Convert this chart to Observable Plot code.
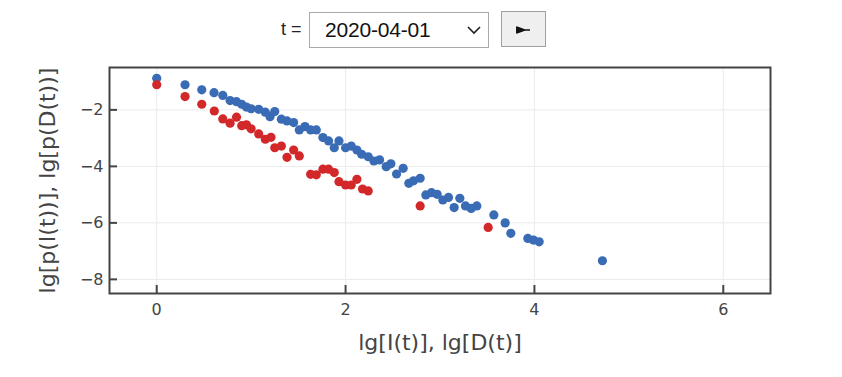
<!DOCTYPE html>
<html><head><meta charset="utf-8">
<script src="https://cdn.jsdelivr.net/npm/d3@7"></script>
<script src="https://cdn.jsdelivr.net/npm/@observablehq/plot@0.6"></script>
<style>
body{margin:0;background:#fff;font-family:"DejaVu Sans",sans-serif;}
#wrap{position:relative;width:842px;height:377px;overflow:hidden;}
#chart{position:absolute;left:0;top:0;}
#tlab{position:absolute;z-index:2;left:281px;top:19px;font:18px "Liberation Sans",Arial,sans-serif;color:#222;}
#sel{position:absolute;z-index:2;left:309px;top:12px;width:180px;height:36px;box-sizing:border-box;border:1px solid #a9a9a9;background:#fff;}
#selt{position:absolute;left:15px;top:5px;font:21px "Liberation Sans",Arial,sans-serif;color:#111;letter-spacing:-0.2px;}
#chev{position:absolute;left:157px;top:13px;}
#btn{position:absolute;z-index:2;left:501px;top:11px;width:45px;height:36px;box-sizing:border-box;border:1px solid #a0a0a0;background:#efefef;}
#play{position:absolute;left:14px;top:14px;}
</style></head>
<body><div id="wrap">
<div id="chart"></div>
<div id="tlab">t =</div>
<div id="sel"><span id="selt">2020-04-01</span>
<svg id="chev" width="14" height="9"><polyline points="1,1 7,7 13,1" fill="none" stroke="#222" stroke-width="1.6"/></svg></div>
<div id="btn"><svg id="play" width="15" height="8"><polygon points="0,0.5 1.5,0.5 9,3.3 14,3.3 14,4.7 9,4.7 1.5,7.5 0,7.5" fill="#111"/></svg></div>
</div>
<script>
const xBlue = [0,0.30,0.477,0.607,0.70,0.777,0.845,0.90,0.95,1.0,1.08,1.15,1.20,1.25,1.32,1.38,1.45,1.51,1.57,1.63,1.69,1.76,1.82,1.88,1.93,2.0,2.06,2.12,2.17,2.24,2.30,2.36,2.43,2.48,2.54,2.61,2.67,2.72,2.79,2.85,2.91,2.97,3.03,3.09,3.15,3.21,3.27,3.33,3.39,3.57,3.69,3.75,3.93,3.99,4.05,4.72];
const yBlue = [-0.88,-1.11,-1.29,-1.39,-1.49,-1.67,-1.71,-1.80,-1.90,-1.96,-1.98,-2.08,-2.24,-2.06,-2.33,-2.39,-2.45,-2.71,-2.59,-2.71,-2.71,-2.98,-3.10,-3.34,-3.10,-3.34,-3.28,-3.42,-3.57,-3.66,-3.81,-3.77,-4.01,-3.91,-4.27,-4.07,-4.60,-4.51,-4.42,-5.01,-4.93,-4.99,-5.19,-5.10,-5.46,-5.13,-5.40,-5.49,-5.40,-5.72,-6.00,-6.37,-6.55,-6.61,-6.67,-7.34];
const xRed = [0,0.30,0.477,0.61,0.70,0.777,0.845,0.90,0.95,1.0,1.08,1.15,1.21,1.25,1.32,1.38,1.45,1.51,1.63,1.69,1.76,1.82,1.88,1.93,2.0,2.06,2.12,2.18,2.24,2.79,3.51];
const yRed = [-1.11,-1.53,-1.80,-2.04,-2.32,-2.47,-2.26,-2.56,-2.53,-2.67,-2.85,-3.04,-2.97,-3.34,-3.28,-3.68,-3.42,-3.63,-4.28,-4.30,-4.10,-4.10,-4.22,-4.54,-4.66,-4.66,-4.46,-4.80,-4.87,-5.40,-6.16];
const xTicks = [0,2,4,6];
const yTicks = [-2,-4,-6,-8];
const xDomain = [-0.5,6.5];
const yDomain = [-8.5,-0.5];
const xTitle = "lg[I(t)], lg[D(t)]";
const yTitle = "lg[p(I(t))], lg[p(D(t))]";

const blue = xBlue.map((x,i)=>({x, y:yBlue[i]}));
const red = xRed.map((x,i)=>({x, y:yRed[i]}));
const fmt = d => d < 0 ? "\u2212" + Math.abs(d) : String(d);

const chart = Plot.plot({
  width: 842, height: 377,
  marginLeft: 109, marginRight: 72, marginTop: 67, marginBottom: 84,
  style: {fontFamily: "DejaVu Sans, sans-serif", color: "#444", background: "#fff"},
  x: {domain: xDomain},
  y: {domain: yDomain},
  marks: [
    Plot.gridX(xTicks, {stroke: "#ebebeb", strokeOpacity: 1, strokeWidth: 1}),
    Plot.gridY(yTicks, {stroke: "#ebebeb", strokeOpacity: 1, strokeWidth: 1}),
    Plot.dot(blue, {x: "x", y: "y", r: 4.6, fill: "#3a6bb5", stroke: "none"}),
    Plot.dot(red, {x: "x", y: "y", r: 4.6, fill: "#d3282a", stroke: "none"}),
    Plot.frame({stroke: "#444", strokeWidth: 2}),
    Plot.axisX(xTicks, {tickSize: -8, tickPadding: 8 + 10, strokeWidth: 2, fontSize: 16, tickFormat: fmt, label: null, fill: "#444", stroke: "#444"}),
    Plot.axisY(yTicks, {tickSize: -8, tickPadding: 8 + 6, strokeWidth: 2, fontSize: 16, tickFormat: fmt, label: null, fill: "#444", stroke: "#444"}),
    Plot.text([xTitle], {frameAnchor: "bottom", dy: 49, lineAnchor: "middle", textAnchor: "middle", fontSize: 22, fill: "#444"}),
    Plot.text([yTitle], {frameAnchor: "left", dx: -62, rotate: -90, lineAnchor: "middle", textAnchor: "middle", fontSize: 22, fill: "#444"})
  ]
});
document.getElementById("chart").appendChild(chart);
</script>
</body></html>
